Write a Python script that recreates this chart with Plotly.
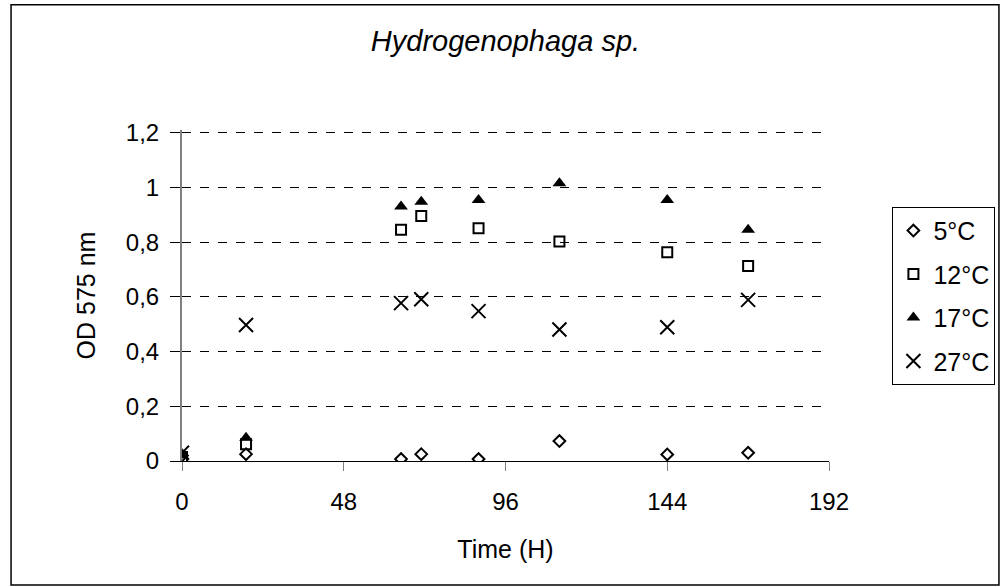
import plotly.graph_objects as go

time_h = [0, 19, 65, 71, 88, 112, 144, 168]
od_5c = [0.02, 0.025, 0.007, 0.025, 0.007, 0.073, 0.024, 0.03]
od_12c = [0.015, 0.061, 0.845, 0.896, 0.851, 0.802, 0.763, 0.713]
od_17c = [0.02, 0.085, 0.93, 0.948, 0.954, 1.015, 0.954, 0.845]
od_27c = [0.03, 0.497, 0.577, 0.591, 0.548, 0.481, 0.489, 0.589]

series = [
    ("5°C", od_5c, dict(symbol="diamond-open", size=9, color="black", line=dict(width=2))),
    ("12°C", od_12c, dict(symbol="square-open", size=10, color="black", line=dict(width=2))),
    ("17°C", od_17c, dict(symbol="triangle-up", size=12, color="black")),
    ("27°C", od_27c, dict(symbol="x-thin-open", size=14, color="black", line=dict(width=2))),
]

fig = go.Figure()
for name, vals, mk in series:
    fig.add_trace(go.Scatter(x=time_h, y=vals, mode="markers", name=name,
                             legendgroup=name, marker=mk))

# y range a bit above 1.2 so the top dashed gridline is drawn
y_top = 1.21
plot_h = 328 * y_top / 1.2
top_m = 461 - plot_h
bot_m = 587 - 461

font = "Liberation Sans, Arial, sans-serif"
fig.update_layout(
    width=1007, height=587,
    margin=dict(l=182, r=174, t=top_m, b=bot_m),
    paper_bgcolor="white", plot_bgcolor="white",
    font=dict(family=font, size=24, color="black"),
    title=dict(text="<i>Hydrogenophaga sp.</i>", x=0.5, xref="paper", y=1 - 41 / 587,
               yanchor="middle", font=dict(size=29)),
    showlegend=True,
    legend=dict(x=1.098, y=(461 - 207) / plot_h, xanchor="left", yanchor="top",
                bordercolor="black", borderwidth=1, bgcolor="white",
                tracegroupgap=8, font=dict(size=25)),
    xaxis=dict(range=[0, 192], tickvals=[0, 48, 96, 144, 192], showgrid=False,
               zeroline=False, showline=True, linecolor="black", linewidth=1,
               ticks="outside", ticklen=9, tickcolor="gray", automargin=False,
               tickfont=dict(size=24), ticklabelstandoff=10,
               title=dict(text="Time (H)", standoff=26, font=dict(size=25))),
    yaxis=dict(range=[0, y_top], tickvals=[0, 0.2, 0.4, 0.6, 0.8, 1.0, 1.2],
               ticktext=["0", "0,2", "0,4", "0,6", "0,8", "1", "1,2"],
               showgrid=True, gridcolor="black", griddash="dash", gridwidth=1,
               zeroline=False, showline=True, linecolor="gray", linewidth=2,
               ticks="outside", ticklen=10, tickcolor="black", automargin=False,
               tickfont=dict(size=24), ticklabelstandoff=6,
               title=dict(text="OD 575 nm", standoff=23, font=dict(size=25))),
)

# outer chart border
fig.add_shape(type="rect", xref="paper", yref="paper",
              x0=(10 - 182) / 651, x1=(1004 - 182) / 651,
              y0=(461 - 585) / plot_h, y1=(461 - 5) / plot_h,
              line=dict(color="black", width=1.5), layer="below")

fig.write_html("out.html", config={"displayModeBar": False},
               post_script="document.body.style.margin='0';")
